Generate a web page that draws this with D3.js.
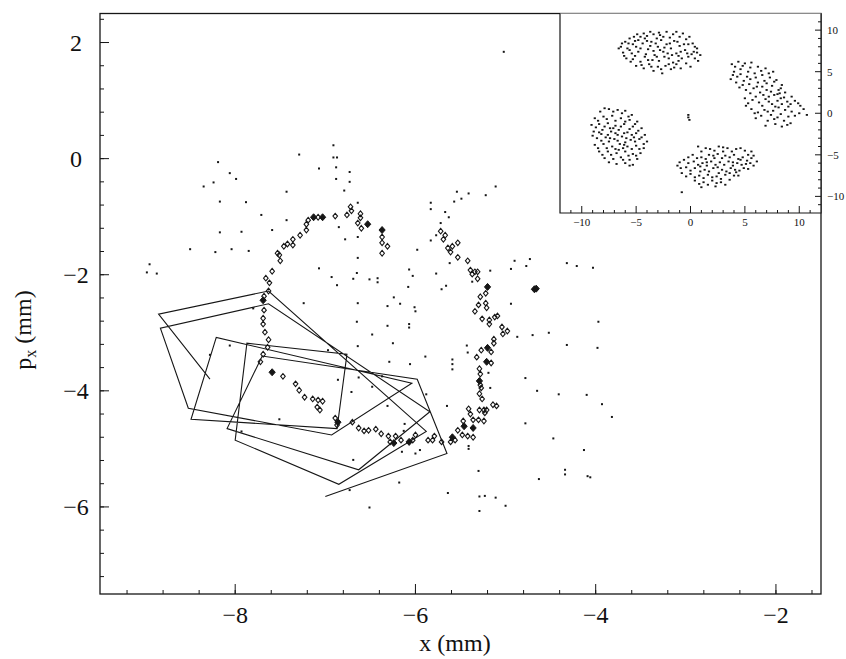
<!DOCTYPE html>
<html>
<head>
<meta charset="utf-8">
<script src="https://cdn.jsdelivr.net/npm/d3@7"></script>
<style>
body { margin: 0; background: #fff; }
text { font-family: "Liberation Serif", "DejaVu Serif", serif; fill: #111; }
</style>
</head>
<body>
<div id="wrapper"></div>
<script>
// main panel ticks
var xMajor = [-8, -6, -4, -2]
var yMajor = [-6, -4, -2, 0, 2]
// inset ticks
var insetMajor = [-10, -5, 0, 5, 10]

// connected trajectory (x, p_x in mm)
var pathPts = [
  [-8.28,-3.80],[-8.85,-2.68],[-7.63,-2.28],[-5.88,-4.70],[-6.85,-5.61],[-8.00,-4.85],
  [-7.87,-3.18],[-6.76,-3.37],[-6.87,-4.65],[-8.49,-4.49],[-8.21,-3.08],[-6.04,-3.87],
  [-6.93,-4.76],[-8.52,-4.30],[-8.83,-2.92],[-7.63,-2.50],[-5.84,-4.36],[-6.63,-5.36],
  [-8.09,-4.65],[-7.70,-3.40],[-5.98,-3.80],[-5.65,-5.08],[-7.00,-5.82]
]

// open diamonds along the arch
var ringPts = [
  [-7.72,-3.50],[-7.69,-3.37],[-7.64,-3.25],[-7.63,-3.12],[-7.67,-2.99],[-7.69,-2.85],
  [-7.69,-2.75],[-7.68,-2.61],[-7.68,-2.37],[-7.63,-2.28],[-7.62,-2.14],[-7.66,-2.06],
  [-7.59,-1.94],[-7.50,-1.76],[-7.53,-1.63],[-7.51,-1.66],[-7.46,-1.51],[-7.42,-1.47],
  [-7.36,-1.49],[-7.36,-1.39],[-7.28,-1.32],[-7.21,-1.23],[-7.21,-1.13],[-7.19,-1.06],
  [-7.08,-1.01],[-6.89,-0.99],[-6.76,-0.97],[-6.72,-0.83],[-6.71,-0.90],[-6.61,-0.95],
  [-6.61,-1.02],[-6.64,-1.11],[-6.60,-1.20],[-6.37,-1.35],[-6.37,-1.45],[-6.31,-1.51],
  [-6.37,-1.63],
  [-5.72,-1.25],[-5.67,-1.32],[-5.69,-1.39],[-5.64,-1.54],[-5.59,-1.51],[-5.53,-1.45],
  [-5.61,-1.61],[-5.53,-1.70],[-5.42,-1.76],[-5.39,-1.92],[-5.34,-1.95],[-5.31,-1.95],
  [-5.37,-1.99],[-5.31,-2.07],[-5.22,-2.32],[-5.28,-2.38],[-5.30,-2.52],[-5.22,-2.49],
  [-5.21,-2.57],[-5.34,-2.63],[-5.26,-2.76],[-5.18,-2.78],[-5.18,-2.85],[-5.12,-2.73],
  [-5.09,-2.71],[-5.04,-2.90],[-5.03,-3.02],[-4.98,-2.97],[-5.13,-3.11],[-5.13,-3.18],
  [-5.16,-3.33],[-5.27,-3.30],[-5.32,-3.42],[-5.16,-3.52],[-5.29,-3.62],[-5.28,-3.71],
  [-5.28,-3.90],[-5.27,-3.95],[-5.29,-4.05],[-5.26,-4.14],[-5.14,-4.24],[-5.10,-4.26],
  [-5.41,-4.31],[-5.39,-4.40],[-5.29,-4.33],[-5.24,-4.33],[-5.21,-4.33],[-5.23,-4.38],
  [-5.36,-4.50],[-5.30,-4.50],[-5.24,-4.52],[-5.47,-4.52],[-5.53,-4.68],[-5.48,-4.76],
  [-5.42,-4.78],[-5.36,-4.80],[-5.56,-4.85],[-5.61,-4.88],[-5.71,-4.88],[-5.79,-4.78],
  [-5.81,-4.85],[-5.86,-4.85],[-6.00,-4.76],[-6.03,-4.85],[-6.16,-4.85],[-6.22,-4.78],
  [-6.28,-4.88],[-6.30,-4.78],[-6.38,-4.74],[-6.44,-4.66],[-6.52,-4.68],[-6.57,-4.69],
  [-6.63,-4.64],[-6.70,-4.54],[-6.87,-4.59],[-6.89,-4.47],[-7.06,-4.33],[-7.09,-4.28],
  [-7.08,-4.16],[-7.03,-4.18],[-7.14,-4.14],[-7.23,-4.11],[-7.29,-3.99],[-7.33,-3.88],
  [-7.47,-3.75]
]

// spots where diamonds pile up into black blobs
var blobPts = [
  [-7.69,-2.44],[-7.13,-1.01],[-7.03,-1.01],[-6.53,-1.13],[-6.37,-1.23],[-5.20,-2.21],
  [-5.20,-3.26],[-5.21,-3.50],[-5.29,-3.83],[-5.46,-4.61],[-5.36,-4.64],[-5.59,-4.80],
  [-6.07,-4.88],[-6.24,-4.90],[-6.86,-4.54],[-7.59,-3.68],[-4.68,-2.25],[-4.66,-2.24]
]

// scattered single points
var dotPts = [
  [-8.19,-0.06],[-8.06,-0.25],[-7.99,-0.35],[-8.35,-0.48],[-8.24,-0.41],[-8.17,-0.74],
  [-7.88,-0.75],[-7.71,-0.97],[-7.43,-0.57],[-7.29,0.07],[-6.91,0.23],[-6.91,0.02],
  [-6.87,0.02],[-7.07,-0.17],[-6.88,-0.15],[-6.73,-0.23],[-6.88,-0.35],[-6.73,-0.40],
  [-6.79,-0.55],[-6.64,-0.76],[-7.43,-1.06],[-7.59,-1.23],[-6.85,-1.18],[-6.64,-1.35],
  [-6.78,-1.39],[-6.64,-1.71],[-5.83,-0.76],[-5.83,-0.87],[-5.54,-0.57],[-5.49,-0.69],
  [-5.41,-0.60],[-5.22,-0.63],[-5.11,-0.48],[-5.57,-0.74],[-5.67,-0.92],[-5.63,-1.01],
  [-5.72,-1.11],[-5.77,-1.32],[-5.83,-1.41],[-5.98,-1.57],[-5.62,-1.80],[-6.07,-1.91],
  [-6.03,-2.02],[-5.77,-1.98],[-6.08,-2.21],[-5.71,-2.25],[-5.66,-2.19],[-5.17,-1.93],
  [-5.37,-2.12],[-4.90,-1.76],[-4.94,-1.90],[-4.73,-1.73],[-4.77,-1.85],[-6.24,-2.39],
  [-6.31,-2.54],[-6.17,-2.50],[-6.01,-2.56],[-6.00,-2.63],[-6.31,-2.88],[-6.07,-2.85],
  [-6.07,-2.91],[-4.94,-2.50],[-4.87,-3.07],[-4.70,-3.04],[-4.52,-3.00],[-6.25,-3.18],
  [-5.43,-3.22],[-5.42,-3.34],[-5.89,-3.41],[-6.29,-3.50],[-6.06,-3.54],[-5.59,-3.46],
  [-5.59,-3.54],[-5.59,-3.63],[-5.19,-3.69],[-4.78,-3.78],[-8.17,-1.27],[-7.93,-1.26],
  [-8.50,-1.56],[-8.22,-1.61],[-8.04,-1.56],[-7.85,-1.59],[-8.95,-1.82],[-8.98,-1.96],
  [-8.87,-1.98],[-7.07,-1.89],[-6.93,-2.04],[-6.87,-2.18],[-6.69,-2.07],[-6.65,-1.97],
  [-6.51,-2.08],[-6.42,-2.06],[-6.42,-2.13],[-7.24,-2.49],[-6.64,-2.49],[-6.65,-2.81],
  [-6.48,-3.03],[-7.80,-2.58],[-8.06,-3.22],[-6.64,-3.23],[-6.97,-3.30],[-8.28,-3.38],
  [-6.86,-3.81],[-6.71,-4.02],[-6.63,-3.77],[-6.48,-3.93],[-6.37,-3.75],[-5.88,-4.06],
  [-5.65,-4.26],[-7.93,-4.70],[-7.51,-4.49],[-6.69,-5.19],[-6.18,-5.58],[-6.73,-5.71],
  [-6.51,-6.01],[-5.64,-5.76],[-6.31,-4.26],[-6.12,-4.57],[-5.95,-5.02],[-6.15,-5.05],
  [-4.65,-4.00],[-4.41,-4.06],[-5.17,-3.95],[-4.78,-4.56],[-6.13,-4.69],[-4.47,-4.82],
  [-5.41,-4.95],[-5.41,-5.00],[-6.00,-5.08],[-5.30,-5.38],[-4.63,-5.52],[-5.29,-5.82],
  [-5.23,-5.81],[-5.11,-5.84],[-5.00,-5.98],[-5.29,-6.07],[-4.13,-5.02],[-4.34,-5.36],
  [-4.34,-5.44],[-4.09,-5.47],[-4.06,-5.49],[-5.02,1.84],[-4.32,-1.80],[-4.21,-1.85],
  [-4.03,-1.88],[-4.32,-3.21],[-3.97,-2.81],[-3.98,-3.26],[-3.82,-4.45],[-3.93,-4.23],
  [-4.10,-4.07]
]

// inset: full transverse picture, four islands and a few centre points
var insetTop = [
  [-6.4,8.0],[-6.0,8.6],[-5.6,9.0],[-5.1,8.7],[-4.6,9.2],[-4.0,9.3],[-3.4,9.5],[-2.8,9.4],
  [-2.2,9.8],[-1.6,9.5],[-1.0,9.2],[-0.4,8.9],[0.2,8.4],[0.6,7.8],[0.9,7.0],[0.7,6.3],
  [-6.2,7.3],[-5.8,7.8],[-5.4,7.2],[-5.0,8.0],[-4.8,7.4],[-4.4,8.4],[-4.2,6.8],[-3.9,7.7],
  [-3.6,8.6],[-3.3,7.0],[-3.0,8.0],[-2.7,8.8],[-2.5,7.4],[-2.2,8.3],[-2.0,6.6],[-1.8,7.8],
  [-1.5,8.7],[-1.3,7.2],[-1.0,8.1],[-0.8,6.6],[-0.5,7.6],[-0.2,8.3],[0.1,7.1],[0.4,6.6],
  [-5.9,6.6],[-5.5,6.2],[-5.0,5.7],[-4.6,6.2],[-4.3,5.4],[-3.8,5.9],[-3.4,5.1],[-3.0,5.6],
  [-2.6,4.8],[-2.3,5.7],[-1.8,5.3],[-1.3,5.9],[-0.9,5.4],[-0.4,6.0],[0.0,5.6],[-4.9,9.5],
  [-3.1,9.0],[-1.9,9.1],[-0.7,9.6],[-2.9,6.3],[-4.1,7.1],[-1.6,6.1],[-3.5,6.4],[-5.3,8.3],
  [-2.4,7.9],[-0.9,7.4],[-3.7,8.1],[-2.1,7.2],
  [-6.6,7.8],[-6.3,8.4],[-5.7,8.4],[-5.2,9.2],[-4.3,9.6],[-3.7,9.8],[-2.5,9.2],[-1.3,9.8],
  [-0.1,9.2],[0.4,8.0],[-5.6,7.6],[-5.1,6.9],[-4.6,7.8],[-4.0,8.7],[-3.2,8.4],[-2.8,7.6],
  [-2.4,6.8],[-1.9,8.4],[-1.1,6.9],[-0.6,8.3],[0.3,7.4],[-3.9,6.4],[-4.5,5.8],[-3.1,6.8],
  [-2.0,5.9],[-1.1,6.3],[-0.2,6.8],[-5.3,6.5],[-2.7,5.3],[-1.5,5.5],[-4.8,8.8],[-3.4,7.5],
  [-1.7,7.0],[-0.3,7.2],[0.6,7.3],[-6.1,6.9],[-2.9,9.7],[-4.2,9.0],[-1.2,8.6],[-3.6,5.6]
]
var insetRight = [
  [3.8,5.9],[4.4,6.2],[5.0,6.0],[5.6,6.1],[6.2,5.6],[6.9,5.4],[7.6,5.0],[4.0,5.0],[4.6,5.3],
  [5.3,5.0],[5.9,4.8],[6.6,4.6],[7.3,4.3],[7.9,4.0],[8.4,3.4],[3.7,4.1],[4.3,4.4],[4.9,3.9],
  [5.5,4.1],[6.2,3.7],[6.8,3.9],[7.5,3.3],[8.1,2.8],[8.7,2.5],[9.3,2.0],[4.5,3.1],[5.1,2.8],
  [5.8,3.0],[6.4,2.5],[7.0,2.8],[7.7,2.2],[8.3,1.8],[8.9,1.4],[9.6,1.5],[10.1,0.9],[5.0,1.8],
  [5.7,1.6],[6.3,1.3],[6.9,1.7],[7.5,1.1],[8.1,0.7],[8.7,0.4],[9.3,0.2],[10.0,0.0],[10.7,-0.2],
  [5.6,0.5],[6.2,0.1],[6.8,0.4],[7.4,-0.2],[8.0,-0.5],[8.6,-0.9],[9.2,-1.2],[6.0,-0.6],
  [7.1,-0.9],[7.8,-1.3],[8.4,-1.6],[6.6,3.2],[7.2,2.0],[8.0,1.5],[5.4,3.5],[7.6,0.3],[9.0,-0.4],
  [4.1,5.6],[4.8,5.7],[5.5,5.5],[6.5,5.1],[7.2,4.8],[3.9,4.6],[4.6,4.7],[5.2,4.4],[6.0,4.3],
  [7.0,3.6],[7.7,3.8],[8.3,3.0],[4.2,3.7],[4.8,3.4],[5.5,2.4],[6.1,3.2],[6.7,2.2],[7.4,2.6],
  [8.0,2.3],[8.6,1.9],[9.2,1.1],[9.9,1.2],[10.4,0.5],[5.3,1.2],[6.0,2.0],[6.6,0.9],[7.2,1.4],
  [7.8,0.8],[8.4,1.1],[9.0,0.8],[9.6,-0.3],[5.9,0.0],[6.5,-0.3],[7.1,0.2],[7.7,-0.7],[8.3,-0.1],
  [8.9,-1.4],[6.9,-1.5],[5.1,0.9],[8.2,2.4]
]
var insetLeft = [
  [-8.3,0.2],[-7.5,0.5],[-6.7,0.4],[-6.0,0.3],[-5.4,-0.2],[-8.8,-0.6],[-8.0,-0.4],[-7.2,-0.3],
  [-6.4,-0.6],[-5.6,-0.8],[-4.9,-1.0],[-9.1,-1.4],[-8.4,-1.3],[-7.6,-1.2],[-6.9,-1.5],
  [-6.1,-1.3],[-5.3,-1.6],[-4.5,-1.8],[-8.9,-2.2],[-8.1,-2.0],[-7.3,-2.2],[-6.6,-2.0],
  [-5.8,-2.3],[-5.0,-2.4],[-4.2,-2.6],[-8.6,-3.0],[-7.8,-2.9],[-7.0,-3.1],[-6.3,-2.8],
  [-5.5,-3.2],[-4.7,-3.1],[-4.0,-3.4],[-8.8,-3.8],[-8.0,-3.7],[-7.2,-4.0],[-6.5,-3.7],
  [-5.8,-4.0],[-5.0,-3.9],[-4.3,-4.2],[-8.4,-4.6],[-7.6,-4.6],[-6.8,-4.8],[-6.0,-4.6],
  [-5.3,-4.9],[-4.6,-4.8],[-7.9,-5.4],[-7.1,-5.5],[-6.4,-5.3],[-5.6,-5.6],[-4.9,-5.5],
  [-6.8,-6.1],[-6.0,-6.0],[-5.3,-6.2],[-7.4,-1.8],[-6.0,-3.5],[-6.7,-2.6],[-5.2,-2.9],
  [-7.5,-3.4],[-6.2,-4.2],[-8.2,-2.5],
  [-7.9,0.6],[-7.1,0.2],[-6.3,0.0],[-5.7,-0.4],[-8.5,-0.9],[-7.7,-0.7],[-6.9,-0.9],[-6.0,-1.0],
  [-5.1,-1.3],[-8.7,-1.7],[-7.9,-1.6],[-7.1,-1.8],[-6.4,-1.6],[-5.6,-1.9],[-4.8,-2.1],
  [-9.0,-2.7],[-8.4,-2.3],[-7.6,-2.6],[-6.9,-2.4],[-6.1,-2.4],[-5.4,-2.6],[-4.5,-2.9],
  [-8.2,-3.3],[-7.4,-3.0],[-6.7,-3.3],[-5.9,-3.0],[-5.1,-3.4],[-4.3,-3.7],[-8.5,-4.2],
  [-7.7,-4.2],[-6.9,-4.3],[-6.1,-3.8],[-5.4,-4.3],[-4.7,-4.3],[-8.1,-5.0],[-7.3,-5.0],
  [-6.6,-4.4],[-5.7,-5.1],[-5.0,-5.1],[-6.2,-5.6],[-7.5,-5.9],[-5.6,-6.3]
]
var insetBottom = [
  [1.0,-4.6],[1.8,-4.3],[2.6,-4.0],[3.4,-4.2],[4.2,-4.3],[5.0,-4.5],[5.6,-4.6],[0.2,-5.0],
  [1.0,-5.3],[1.7,-5.0],[2.5,-4.9],[3.2,-5.1],[4.0,-5.0],[4.8,-5.3],[5.6,-5.4],[6.1,-5.8],
  [-0.6,-5.6],[0.3,-5.8],[1.1,-6.0],[1.9,-5.8],[2.7,-5.9],[3.5,-5.8],[4.3,-6.0],[5.1,-6.1],
  [-1.2,-6.3],[-0.4,-6.5],[0.4,-6.6],[1.3,-6.8],[2.1,-6.6],[2.9,-6.8],[3.7,-6.6],[4.5,-6.9],
  [5.3,-6.7],[-0.8,-7.2],[0.0,-7.3],[0.8,-7.5],[1.6,-7.4],[2.4,-7.6],[3.2,-7.4],[4.0,-7.5],
  [0.4,-8.1],[1.2,-8.3],[2.0,-8.1],[2.8,-8.3],[3.6,-8.0],[1.0,-8.9],[2.3,-8.8],[0.7,-4.0],
  [3.0,-4.6],[4.6,-5.6],[1.5,-6.3],[2.6,-7.2],[-0.2,-6.0],[3.9,-6.3],[0.9,-7.0],[2.2,-5.4],
  [4.2,-7.1],[5.8,-6.3],
  [1.4,-4.2],[2.2,-4.5],[3.0,-4.1],[3.8,-4.6],[4.6,-4.2],[5.3,-5.0],[0.6,-5.4],[1.4,-5.5],
  [2.1,-5.1],[2.9,-5.4],[3.6,-5.3],[4.4,-5.5],[5.2,-5.7],[-0.2,-5.3],[0.7,-6.2],[1.5,-5.9],
  [2.3,-6.2],[3.1,-6.2],[3.9,-5.9],[4.7,-6.2],[5.5,-6.0],[-0.9,-6.6],[0.0,-6.9],[0.9,-6.4],
  [1.7,-7.0],[2.5,-6.5],[3.3,-7.0],[4.1,-6.8],[4.9,-6.6],[-0.4,-7.6],[0.4,-7.7],[1.2,-7.8],
  [2.0,-7.7],[2.8,-7.9],[3.6,-7.2],[4.4,-7.5],[0.8,-8.5],[1.6,-8.6],[2.4,-8.4],[3.2,-8.6],
  [-1.0,-5.9],[5.8,-5.1]
]
var insetCentre = [[-0.2,-0.2],[-0.2,-0.5],[-0.1,-0.8],[-0.8,-9.5]]

var dimension = {
    width: 846,
    height: 659,
    left: 100,
    right: 821,
    top: 13.5,
    bottom: 594
}

var x = d3.scaleLinear().domain([-9.5, -1.5]).range([dimension.left, dimension.right])
var y = d3.scaleLinear().domain([-7.5, 2.5]).range([dimension.bottom, dimension.top])

var ix = d3.scaleLinear().domain([-12, 12]).range([560, dimension.right])
var iy = d3.scaleLinear().domain([-12, 12]).range([213, dimension.top])

const svg = d3.select("#wrapper")
    .append("svg")
    .attr("width", dimension.width)
    .attr("height", dimension.height)

var ink = "#161616"

// frame
svg.append("rect")
    .attr("x", dimension.left)
    .attr("y", dimension.top)
    .attr("width", dimension.right - dimension.left)
    .attr("height", dimension.bottom - dimension.top)
    .style("fill", "none")
    .style("stroke", ink)
    .style("stroke-width", 1.3)

// ticks, pointing inwards
var xMinor = d3.range(-9.2, -1.55, 0.4)
var yMinor = d3.range(-7.2, 2.45, 0.4)

svg.append("g").selectAll("line")
    .data(xMinor)
    .enter()
    .append("line")
    .attr("x1", d => x(d)).attr("x2", d => x(d))
    .attr("y1", dimension.bottom).attr("y2", dimension.bottom - 4)
    .style("stroke", ink)

svg.append("g").selectAll("line")
    .data(xMajor)
    .enter()
    .append("line")
    .attr("x1", d => x(d)).attr("x2", d => x(d))
    .attr("y1", dimension.bottom).attr("y2", dimension.bottom - 10)
    .style("stroke", ink)

svg.append("g").selectAll("line")
    .data(yMinor)
    .enter()
    .append("line")
    .attr("x1", dimension.left).attr("x2", dimension.left + 4)
    .attr("y1", d => y(d)).attr("y2", d => y(d))
    .style("stroke", ink)

svg.append("g").selectAll("line")
    .data(yMajor)
    .enter()
    .append("line")
    .attr("x1", dimension.left).attr("x2", dimension.left + 9)
    .attr("y1", d => y(d)).attr("y2", d => y(d))
    .style("stroke", ink)

function fmt(d) {
    return d < 0 ? "\u2212" + Math.abs(d) : String(d)
}

svg.append("g").selectAll("text")
    .data(xMajor)
    .enter()
    .append("text")
    .attr("x", d => x(d))
    .attr("y", 623)
    .attr("text-anchor", "middle")
    .style("font-size", "24px")
    .text(fmt)

svg.append("g").selectAll("text")
    .data(yMajor)
    .enter()
    .append("text")
    .attr("x", 76)
    .attr("y", d => y(d) + 8)
    .attr("text-anchor", "middle")
    .style("font-size", "24px")
    .text(fmt)

svg.append("text")
    .attr("x", 455)
    .attr("y", 651)
    .attr("text-anchor", "middle")
    .style("font-size", "24px")
    .text("x (mm)")

var ylab = svg.append("text")
    .attr("transform", "translate(31,330) rotate(-90)")
    .attr("text-anchor", "middle")
    .style("font-size", "24px")
ylab.append("tspan").text("p")
ylab.append("tspan").attr("dy", 5).style("font-size", "16px").text("x")
ylab.append("tspan").attr("dy", -5).text(" (mm)")

// trajectory
svg.append("path")
    .datum(pathPts)
    .attr("d", d3.line().x(d => x(d[0])).y(d => y(d[1])))
    .style("fill", "none")
    .style("stroke", ink)
    .style("stroke-width", 1.1)
    .style("stroke-linejoin", "miter")

var diamond = "M0,-2.8L2.3,0L0,2.8L-2.3,0Z"

svg.append("g").selectAll("path")
    .data(ringPts)
    .enter()
    .append("path")
    .attr("d", diamond)
    .attr("transform", d => `translate(${x(d[0])},${y(d[1])})`)
    .style("fill", "none")
    .style("stroke", ink)
    .style("stroke-width", 1.1)

svg.append("g").selectAll("path")
    .data(blobPts)
    .enter()
    .append("path")
    .attr("d", "M0,-3.5L3.1,0L0,3.5L-3.1,0Z")
    .attr("transform", d => `translate(${x(d[0])},${y(d[1])})`)
    .style("fill", ink)
    .style("stroke", ink)
    .style("stroke-width", 1)

svg.append("g").selectAll("rect")
    .data(dotPts)
    .enter()
    .append("rect")
    .attr("x", d => x(d[0]) - 1)
    .attr("y", d => y(d[1]) - 1)
    .attr("width", 2)
    .attr("height", 2)
    .style("fill", ink)

// inset
var inset = svg.append("g")

inset.append("rect")
    .attr("x", ix(-12))
    .attr("y", dimension.top)
    .attr("width", ix(12) - ix(-12))
    .attr("height", iy(-12) - dimension.top)
    .style("fill", "#fff")
    .style("stroke", "none")

inset.append("path")
    .attr("d", `M${ix(-12)},${dimension.top}V${iy(-12)}H${ix(12)}V${dimension.top}`)
    .style("fill", "none")
    .style("stroke", ink)
    .style("stroke-width", 1.2)

var insetMinor = d3.range(-11, 12, 1)

inset.append("g").selectAll("line")
    .data(insetMinor)
    .enter()
    .append("line")
    .attr("x1", d => ix(d)).attr("x2", d => ix(d))
    .attr("y1", iy(-12)).attr("y2", d => iy(-12) - (insetMajor.includes(d) ? 7 : 3))
    .style("stroke", ink)

inset.append("g").selectAll("line")
    .data(insetMinor)
    .enter()
    .append("line")
    .attr("x1", ix(12)).attr("x2", d => ix(12) - (insetMajor.includes(d) ? 6 : 3))
    .attr("y1", d => iy(d)).attr("y2", d => iy(d))
    .style("stroke", ink)

inset.append("g").selectAll("text")
    .data(insetMajor)
    .enter()
    .append("text")
    .attr("x", d => ix(d))
    .attr("y", 226)
    .attr("text-anchor", "middle")
    .style("font-size", "11px")
    .text(fmt)

inset.append("g").selectAll("text")
    .data(insetMajor)
    .enter()
    .append("text")
    .attr("x", ix(12) + 6)
    .attr("y", d => iy(d) + 4)
    .style("font-size", "11px")
    .text(fmt)

var insetPts = insetTop.concat(insetRight, insetLeft, insetBottom, insetCentre)

inset.append("g").selectAll("rect")
    .data(insetPts)
    .enter()
    .append("rect")
    .attr("x", d => ix(d[0]) - 1.1)
    .attr("y", d => iy(d[1]) - 0.9)
    .attr("width", 2.2)
    .attr("height", 1.8)
    .style("fill", ink)
</script>
</body>
</html>
